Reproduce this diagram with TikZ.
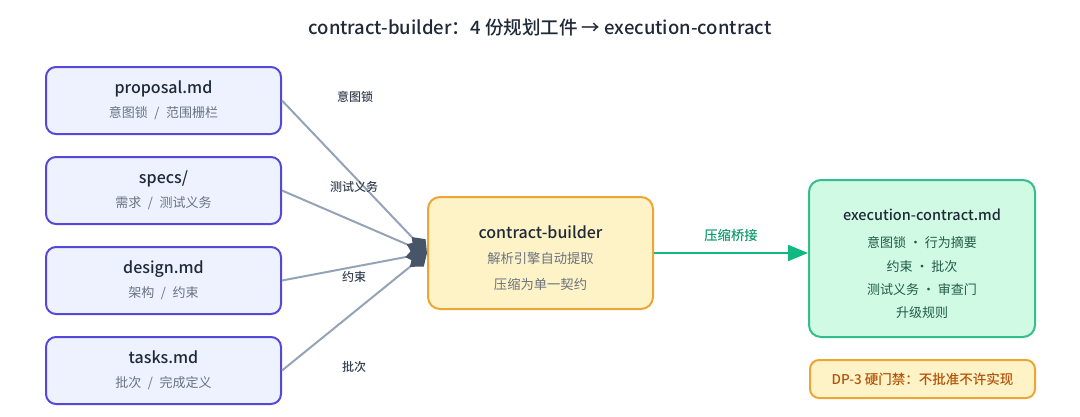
\documentclass[tikz,border=0pt]{standalone}
\usepackage{fontspec}
\setmainfont{Noto Sans CJK SC}
\newfontfamily\medfont{Noto Sans CJK SC}[UprightFont=* Medium]
\usepackage{tikz}
\usetikzlibrary{arrows.meta, positioning}
\definecolor{InkDark}{HTML}{1F2937}
\definecolor{InkGray}{HTML}{6B7280}
\definecolor{LabelGray}{HTML}{374151}
\definecolor{DocFill}{HTML}{EEF2FF}
\definecolor{DocLine}{HTML}{5548D9}
\definecolor{BuildFill}{HTML}{FEF3C7}
\definecolor{BuildLine}{HTML}{EBA636}
\definecolor{OutFill}{HTML}{D1FAE5}
\definecolor{OutLine}{HTML}{34BE8A}
\definecolor{OutText}{HTML}{1E5B47}
\definecolor{FlowGray}{HTML}{94A3B8}
\definecolor{TipSlate}{HTML}{475569}
\definecolor{BridgeGreen}{HTML}{10B981}
\definecolor{BridgeText}{HTML}{0E9A6B}
\definecolor{GateText}{HTML}{B45309}
\newcommand{\boxtitle}{\fontsize{16}{18}\selectfont\medfont\color{InkDark}}
\newcommand{\boxsub}{\color{InkGray}}
\newcommand{\sep}{\enspace/\enspace}
\tikzset{
  docbox/.style={draw=DocLine, fill=DocFill, line width=2pt, rounded corners=10pt,
    minimum width=235pt, minimum height=67pt, align=center,
    font=\fontsize{13}{24}\selectfont},
  buildbox/.style={draw=BuildLine, fill=BuildFill, line width=2pt, rounded corners=12pt,
    minimum width=225pt, minimum height=112pt},
  outbox/.style={draw=OutLine, fill=OutFill, line width=2pt, rounded corners=12pt,
    minimum width=226pt, minimum height=157pt},
  boxtext/.style={align=center, inner sep=0pt},
  gatebox/.style={draw=BuildLine, fill=BuildFill, line width=2pt, rounded corners=9pt,
    minimum width=225pt, minimum height=38pt, align=center},
  feed/.style={draw=FlowGray, line width=2pt,
    -{Diamond[length=22pt, width=17pt, fill=TipSlate, color=TipSlate]}},
  feedlabel/.style={font=\fontsize{12}{14}\selectfont\medfont, text=LabelGray},
  bridge/.style={draw=BridgeGreen, line width=2pt,
    -{Triangle[length=20pt, width=16pt]}}
}

\begin{document}
\begin{tikzpicture}[x=1pt, y=-1pt]
\useasboundingbox (0,0) rectangle (1080,416);

\node (title) at (540,27) {\fontsize{18.5}{22}\selectfont\medfont\color{InkDark}contract-builder：4 份规划工件 → execution-contract};

% source documents
\node[docbox] (proposal) at (163.5,100.5) {{\boxtitle proposal.md}\\{\boxsub 意图锁\sep 范围栅栏}};
\node[docbox] (specs)    at (163.5,190.5) {{\boxtitle specs/}\\{\boxsub 需求\sep 测试义务}};
\node[docbox] (design)   at (163.5,280.5) {{\boxtitle design.md}\\{\boxsub 架构\sep 约束}};
\node[docbox] (tasks)    at (163.5,370.5) {{\boxtitle tasks.md}\\{\boxsub 批次\sep 完成定义}};

% builder and its output
\node[buildbox] (builder) at (540.5,253) {};
\node[boxtext, font=\fontsize{13.3}{25.5}\selectfont] (buildertext) at ([yshift=-5pt]builder.center)
  {{\boxtitle contract-builder}\\{\boxsub 解析引擎自动提取}\\{\boxsub 压缩为单一契约}};

\node[outbox] (contract) at (922,258.5) {};
\node[boxtext, font=\fontsize{13}{23.3}\selectfont, text=OutText] (contracttext) at ([yshift=-5.5pt]contract.center) {%
  {\fontsize{14.5}{16}\selectfont\medfont\color{InkDark}execution-contract.md}\\[4pt]
  意图锁 · 行为摘要\\
  约束 · 批次\\
  测试义务 · 审查门\\
  升级规则};

\node[gatebox] (gate) at (922.5,379) {\fontsize{13.5}{15}\selectfont\medfont\color{GateText}DP-3 硬门禁：不批准不许实现};

% feeds into the builder
\draw[feed] (proposal.east) -- (builder.west);
\draw[feed] (specs.east) -- (builder.west);
\draw[feed] (design.east) -- (builder.west);
\draw[feed] (tasks.east) -- (builder.west);

\node[feedlabel] (lblproposal) at (355,97) {意图锁};
\node[feedlabel] (lblspecs) at (354,187) {测试义务};
\node[feedlabel] (lbldesign) at (354,277) {约束};
\node[feedlabel] (lbltasks) at (354,367) {批次};

\draw[bridge] (builder.east) -- (builder.east -| contract.west)
  node[midway, above=7pt, font=\fontsize{13.3}{15}\selectfont\medfont, text=BridgeText] (lblbridge) {压缩桥接};
\end{tikzpicture}
\end{document}
